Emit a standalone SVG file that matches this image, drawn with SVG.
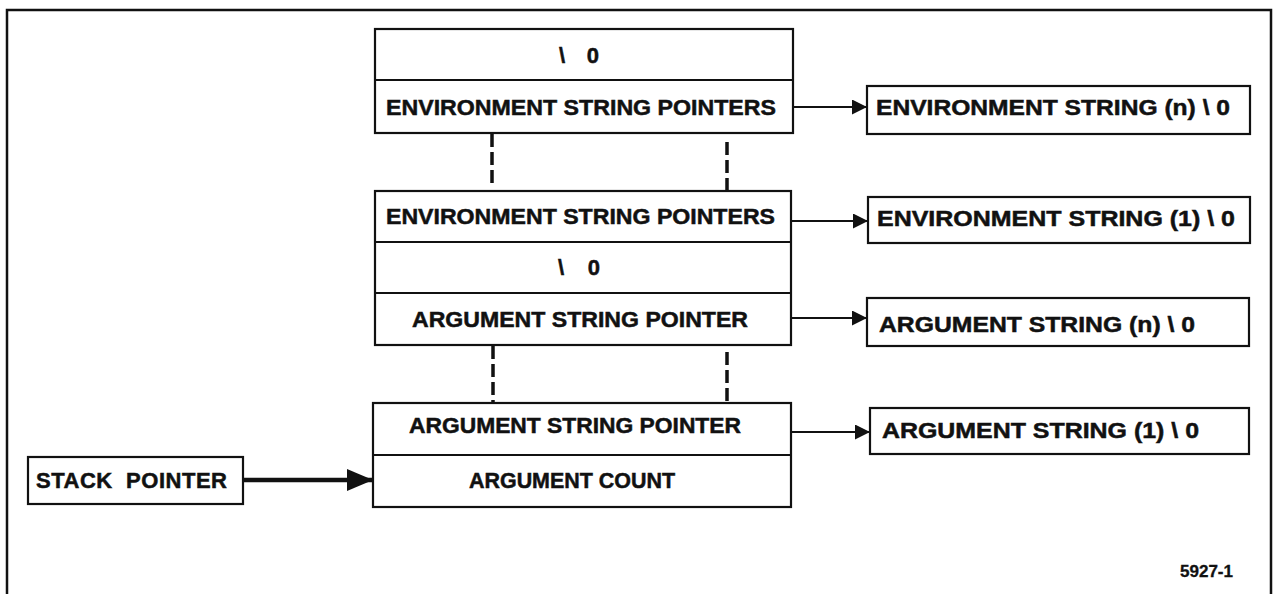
<svg xmlns="http://www.w3.org/2000/svg" width="1275" height="594" viewBox="0 0 1275 594">
  <style>
    .frame { fill: none; stroke: #111; stroke-width: 2.5; }
    .box { fill: #fff; stroke: #111; stroke-width: 2.2; }
    .div { stroke: #111; stroke-width: 2; }
    .lbl { font-family: "Liberation Sans", Arial, sans-serif; font-weight: bold; font-size: 22px; fill: #111; stroke: #111; stroke-width: 0.5; }
    .small { font-family: "Liberation Sans", Arial, sans-serif; font-weight: bold; font-size: 16px; fill: #111; stroke: #111; stroke-width: 0.3; }
    .dash { stroke: #111; stroke-width: 3.5; stroke-dasharray: 13 5; fill: none; }
    .link { stroke: #111; stroke-width: 2; fill: none; }
    .thick { stroke: #111; stroke-width: 4.5; fill: none; }
  </style>
  <defs>
    <marker id="arrowSmall" viewBox="0 0 15 15" refX="15" refY="7.5" markerWidth="15" markerHeight="15" markerUnits="userSpaceOnUse" orient="auto">
      <path d="M0,0 L15,7.5 L0,15 Z" fill="#111"/>
    </marker>
    <marker id="arrowBig" viewBox="0 0 26 22" refX="26" refY="11" markerWidth="26" markerHeight="22" markerUnits="userSpaceOnUse" orient="auto">
      <path d="M0,0 L26,11 L0,22 Z" fill="#111"/>
    </marker>
  </defs>

  <rect width="1275" height="594" fill="#fff"/>
  <!-- outer frame -->
  <path class="frame" d="M7,596 L7,10 L1271,10 L1271,596"/>

  <!-- upper stack block: terminator + environment pointer (n) -->
  <g id="env-top">
    <rect class="box" x="375" y="29" width="418" height="104"/>
    <line class="div" x1="375" y1="80" x2="793" y2="80"/>
    <text class="lbl" x="559" y="63" textLength="40" lengthAdjust="spacing">\ 0</text>
    <text class="lbl" x="386" y="115" textLength="390" lengthAdjust="spacingAndGlyphs">ENVIRONMENT STRING POINTERS</text>
  </g>

  <!-- middle stack block: environment pointer (1), terminator, argument pointer (n) -->
  <g id="env-arg-mid">
    <rect class="box" x="375" y="191" width="416" height="154"/>
    <line class="div" x1="375" y1="242" x2="791" y2="242"/>
    <line class="div" x1="375" y1="293" x2="791" y2="293"/>
    <text class="lbl" x="386" y="224" textLength="389" lengthAdjust="spacingAndGlyphs">ENVIRONMENT STRING POINTERS</text>
    <text class="lbl" x="558" y="275" textLength="42" lengthAdjust="spacing">\ 0</text>
    <text class="lbl" x="412" y="327" textLength="336" lengthAdjust="spacingAndGlyphs">ARGUMENT STRING POINTER</text>
  </g>

  <!-- lower stack block: argument pointer (1) + argument count -->
  <g id="arg-bottom">
    <rect class="box" x="373" y="403" width="418" height="104"/>
    <line class="div" x1="373" y1="455" x2="791" y2="455"/>
    <text class="lbl" x="409" y="433" textLength="332" lengthAdjust="spacingAndGlyphs">ARGUMENT STRING POINTER</text>
    <text class="lbl" x="469" y="488" textLength="206" lengthAdjust="spacingAndGlyphs">ARGUMENT COUNT</text>
  </g>

  <g id="stack-pointer">
    <rect class="box" x="28" y="457" width="215" height="47"/>
    <text class="lbl" x="36" y="488" textLength="191" lengthAdjust="spacing" xml:space="preserve">STACK  POINTER</text>
  </g>

  <g id="env-string-n">
    <rect class="box" x="867" y="86" width="383" height="48"/>
    <text class="lbl" x="876" y="115" textLength="354" lengthAdjust="spacingAndGlyphs">ENVIRONMENT STRING (n) \ 0</text>
  </g>
  <g id="env-string-1">
    <rect class="box" x="868" y="197" width="382" height="46"/>
    <text class="lbl" x="877" y="226" textLength="358" lengthAdjust="spacingAndGlyphs">ENVIRONMENT STRING (1) \ 0</text>
  </g>
  <g id="arg-string-n">
    <rect class="box" x="867" y="298" width="382" height="48"/>
    <text class="lbl" x="879" y="332" textLength="316" lengthAdjust="spacingAndGlyphs">ARGUMENT STRING (n) \ 0</text>
  </g>
  <g id="arg-string-1">
    <rect class="box" x="870" y="408" width="379" height="46"/>
    <text class="lbl" x="882" y="438" textLength="317" lengthAdjust="spacingAndGlyphs">ARGUMENT STRING (1) \ 0</text>
  </g>

  <text class="small" x="1180" y="577" textLength="53" lengthAdjust="spacingAndGlyphs">5927-1</text>

  <g id="connectors">
    <!-- elided stack regions -->
    <line class="dash" x1="492" y1="134" x2="492" y2="184"/>
    <line class="dash" x1="727" y1="142" x2="727" y2="191"/>
    <line class="dash" x1="493" y1="346" x2="493" y2="402"/>
    <line class="dash" x1="727" y1="352" x2="727" y2="402"/>
    <!-- pointers to strings -->
    <line class="link" x1="793" y1="107" x2="867" y2="107" marker-end="url(#arrowSmall)"/>
    <line class="link" x1="791" y1="221" x2="868" y2="221" marker-end="url(#arrowSmall)"/>
    <line class="link" x1="791" y1="318" x2="867" y2="318" marker-end="url(#arrowSmall)"/>
    <line class="link" x1="791" y1="432" x2="870" y2="432" marker-end="url(#arrowSmall)"/>
    <!-- stack pointer -->
    <line class="thick" x1="243" y1="480" x2="373" y2="480" marker-end="url(#arrowBig)"/>
  </g>
</svg>
